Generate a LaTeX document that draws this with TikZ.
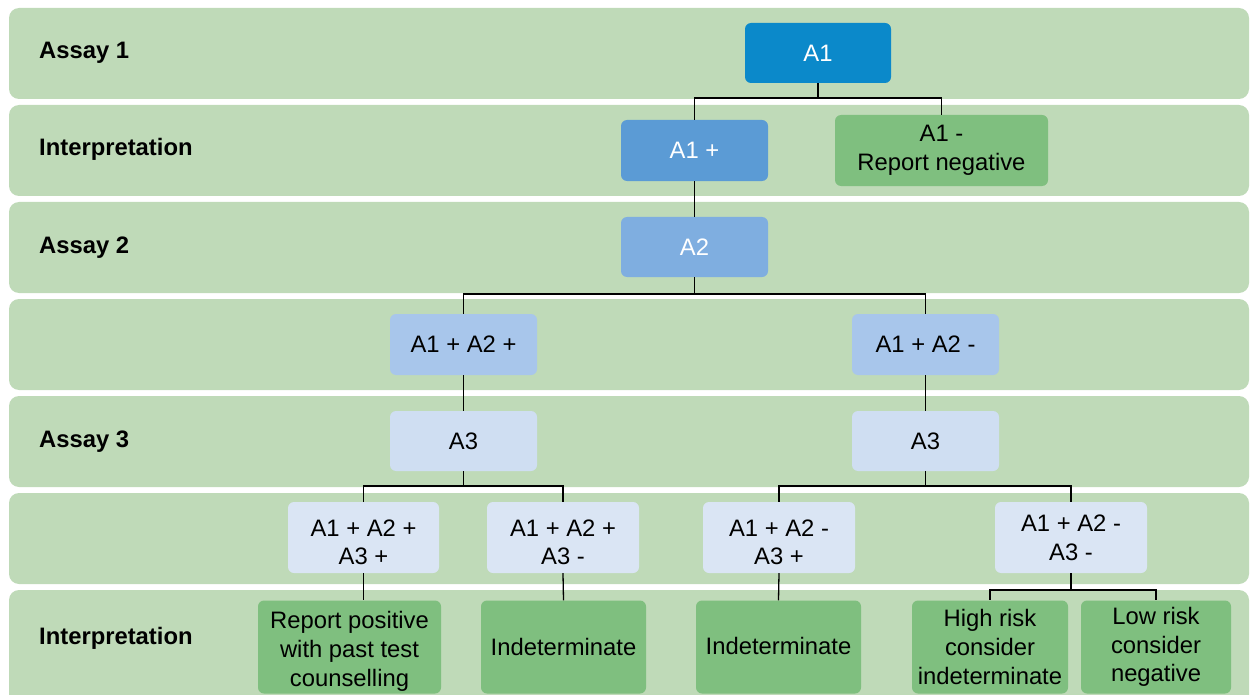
\documentclass[tikz,border=0pt]{standalone}
\usepackage{fontspec}
\setmainfont{Liberation Sans}
\definecolor{bandc}{RGB}{191,218,184}
\definecolor{cA}{RGB}{11,137,202}
\definecolor{cB}{RGB}{91,155,213}
\definecolor{cC}{RGB}{127,174,224}
\definecolor{cD}{RGB}{168,198,235}
\definecolor{cE}{RGB}{207,222,242}
\definecolor{cF}{RGB}{218,229,244}
\definecolor{cG}{RGB}{127,191,127}
\newcommand{\tallrow}[1]{\raisebox{0pt}[26bp]{#1}}
\begin{document}
\begin{tikzpicture}[x=1bp,y=-1bp,
  band/.style={fill=bandc, rounded corners=10bp},
  box/.style={rectangle, rounded corners=6bp, inner sep=0pt, align=center,
    font=\fontsize{23.8bp}{28.7bp}\selectfont},
  lab/.style={anchor=base west, inner sep=0pt, font=\bfseries\fontsize{23.8bp}{28bp}\selectfont},
  conn/.style={draw=black, line width=1.3bp}]
\useasboundingbox (0,0) rectangle (1250,695);
\clip (0,0) rectangle (1250,695);
% bands
\foreach \k in {0,...,5} {
  \fill[band] (9,8+97*\k) rectangle (1249,99+97*\k);
}
\fill[band] (9,590) rectangle (1249,730);
% labels
\node[lab] (l1) at (39,59) {Assay 1};
\node[lab] (l2) at (39,156) {Interpretation};
\node[lab] (l3) at (39,253) {Assay 2};
\node[lab] (l4) at (39,447) {Assay 3};
\node[lab] (l5) at (39,644) {Interpretation};
% nodes
\node[box, fill=cA, text=white, minimum width=146bp, minimum height=60bp] (a1) at (818,53) {A1};
\node[box, fill=cB, text=white, minimum width=147bp, minimum height=61bp] (a1p) at (694.5,150.5) {A1 +};
\node[box, fill=cG, minimum width=213bp, minimum height=71bp] (a1m) at (941.5,150.5) {A1 -\\Report negative};
\node[box, fill=cC, text=white, minimum width=147bp, minimum height=60bp] (a2) at (694.5,247) {A2};
\node[box, fill=cD, minimum width=147bp, minimum height=61bp] (pp) at (463.5,344.5) {A1 + A2 +};
\node[box, fill=cD, minimum width=147bp, minimum height=61bp] (pm) at (925.5,344.5) {A1 + A2 -};
\node[box, fill=cE, minimum width=147bp, minimum height=60bp] (a3l) at (463.5,441) {A3};
\node[box, fill=cE, minimum width=147bp, minimum height=60bp] (a3r) at (925.5,441) {A3};
\node[box, fill=cF, minimum width=151bp, minimum height=71bp] (ppp) at (363.5,537.5) {\tallrow{A1 + A2 +}\\A3 +};
\node[box, fill=cF, minimum width=152bp, minimum height=71bp] (ppm) at (563,537.5) {\tallrow{A1 + A2 +}\\A3 -};
\node[box, fill=cF, minimum width=152bp, minimum height=71bp] (pmp) at (779,537.5) {\tallrow{A1 + A2 -}\\A3 +};
\node[box, fill=cF, minimum width=152bp, minimum height=71bp] (pmm) at (1071,537.5) {A1 + A2 -\\A3 -};
\node[box, fill=cG, minimum width=183bp, minimum height=93bp] (r1) at (349.5,647) {\tallrow{Report positive}\\with past test\\counselling};
\node[box, fill=cG, minimum width=165bp, minimum height=93bp] (r2) at (563.5,647) {Indeterminate};
\node[box, fill=cG, minimum width=165bp, minimum height=93bp] (r3) at (778.5,647) {\raisebox{3bp}{Indeterminate}};
\node[box, fill=cG, minimum width=156bp, minimum height=93bp] (r4) at (990,647) {High risk\\consider\\indeterminate};
\node[box, fill=cG, minimum width=150bp, minimum height=93bp] (r5) at (1156,647) {Low risk\\consider\\negative};
% connectors
\coordinate (j1) at (a1.south |- 0,98);
\draw[conn] (a1.south) -- (j1) -| (a1p.north);
\draw[conn] (j1) -| (a1m.north);
\draw[conn] (a1p.south) -- (a2.north);
\coordinate (j2) at (a2.south |- 0,294);
\draw[conn] (a2.south) -- (j2) -| (pp.north);
\draw[conn] (j2) -| (pm.north);
\draw[conn] (pp.south) -- (a3l.north);
\draw[conn] (pm.south) -- (a3r.north);
\coordinate (j3) at (a3l.south |- 0,486);
\draw[conn] (a3l.south) -- (j3) -| (ppp.north);
\draw[conn] (j3) -| (ppm.north);
\coordinate (j4) at (a3r.south |- 0,486);
\draw[conn] (a3r.south) -- (j4) -| (pmp.north);
\draw[conn] (j4) -| (pmm.north);
\draw[conn] (ppp.south) -- (ppp.south |- r1.north);
\draw[conn] (ppm.south) -- (r2.north);
\draw[conn] (pmp.south) -- (r3.north);
\coordinate (j5) at (pmm.south |- 0,590);
\draw[conn] (pmm.south) -- (j5) -| (r4.north);
\draw[conn] (j5) -| (r5.north);
\end{tikzpicture}
\end{document}
